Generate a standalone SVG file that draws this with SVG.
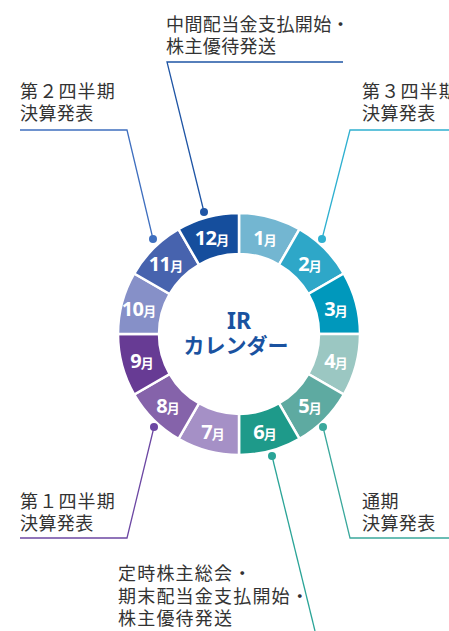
<svg xmlns="http://www.w3.org/2000/svg" width="449" height="631" viewBox="0 0 449 631">
<style>
.seg{stroke:#fff;stroke-width:2.5;stroke-linejoin:miter}
.lbl{font-family:"Noto Sans","Open Sans","Noto Sans CJK JP",sans-serif;font-weight:700;fill:#fff;text-anchor:middle}
.n{font-size:20px;letter-spacing:-0.8px}
.m{font-size:13px;font-family:"Noto Sans CJK JP",sans-serif}
.cap{font-family:"Noto Sans CJK JP","Noto Sans",sans-serif;font-size:18px;letter-spacing:0.4px;fill:#333}
.wide{letter-spacing:1.2px}
.ctr{font-family:"Noto Sans","Noto Sans CJK JP",sans-serif;font-weight:700;fill:#1a52a0;text-anchor:middle}
.ln{fill:none;stroke-width:1.3}
</style>
<rect width="449" height="631" fill="#fff"/>
<g id="ring">
<g id="m1"><path class="seg" fill="#73b6d1" d="M239,213 A121,121 0 0 1 299.5,229.21 L279,264.72 A80,80 0 0 0 239,254 Z"/><text class="lbl" x="265" y="244.5"><tspan class="n">1</tspan><tspan class="m">月</tspan></text></g>
<g id="m2"><path class="seg" fill="#2ea7c8" d="M299.5,229.21 A121,121 0 0 1 343.79,273.5 L308.28,294 A80,80 0 0 0 279,264.72 Z"/><text class="lbl" x="310" y="270.5"><tspan class="n">2</tspan><tspan class="m">月</tspan></text></g>
<g id="m3"><path class="seg" fill="#0098bc" d="M343.79,273.5 A121,121 0 0 1 360,334 L319,334 A80,80 0 0 0 308.28,294 Z"/><text class="lbl" x="336" y="315.5"><tspan class="n">3</tspan><tspan class="m">月</tspan></text></g>
<g id="m4"><path class="seg" fill="#9bc7c2" d="M360,334 A121,121 0 0 1 343.79,394.5 L308.28,374 A80,80 0 0 0 319,334 Z"/><text class="lbl" x="336" y="367.5"><tspan class="n">4</tspan><tspan class="m">月</tspan></text></g>
<g id="m5"><path class="seg" fill="#5eaaa1" d="M343.79,394.5 A121,121 0 0 1 299.5,438.79 L279,403.28 A80,80 0 0 0 308.28,374 Z"/><text class="lbl" x="310" y="412.5"><tspan class="n">5</tspan><tspan class="m">月</tspan></text></g>
<g id="m6"><path class="seg" fill="#1e9a8a" d="M299.5,438.79 A121,121 0 0 1 239,455 L239,414 A80,80 0 0 0 279,403.28 Z"/><text class="lbl" x="265" y="438.5"><tspan class="n">6</tspan><tspan class="m">月</tspan></text></g>
<g id="m7"><path class="seg" fill="#a590c6" d="M239,455 A121,121 0 0 1 178.5,438.79 L199,403.28 A80,80 0 0 0 239,414 Z"/><text class="lbl" x="213" y="438.5"><tspan class="n">7</tspan><tspan class="m">月</tspan></text></g>
<g id="m8"><path class="seg" fill="#8563aa" d="M178.5,438.79 A121,121 0 0 1 134.21,394.5 L169.72,374 A80,80 0 0 0 199,403.28 Z"/><text class="lbl" x="168" y="412.5"><tspan class="n">8</tspan><tspan class="m">月</tspan></text></g>
<g id="m9"><path class="seg" fill="#673b94" d="M134.21,394.5 A121,121 0 0 1 118,334 L159,334 A80,80 0 0 0 169.72,374 Z"/><text class="lbl" x="142" y="367.5"><tspan class="n">9</tspan><tspan class="m">月</tspan></text></g>
<g id="m10"><path class="seg" fill="#8690c8" d="M118,334 A121,121 0 0 1 134.21,273.5 L169.72,294 A80,80 0 0 0 159,334 Z"/><text class="lbl" x="139" y="315.5"><tspan class="n">10</tspan><tspan class="m">月</tspan></text></g>
<g id="m11"><path class="seg" fill="#4763ae" d="M134.21,273.5 A121,121 0 0 1 178.5,229.21 L199,264.72 A80,80 0 0 0 169.72,294 Z"/><text class="lbl" x="166" y="270.5"><tspan class="n">11</tspan><tspan class="m">月</tspan></text></g>
<g id="m12"><path class="seg" fill="#154e9d" d="M178.5,229.21 A121,121 0 0 1 239,213 L239,254 A80,80 0 0 0 199,264.72 Z"/><text class="lbl" x="212" y="244.5"><tspan class="n">12</tspan><tspan class="m">月</tspan></text></g>
</g>
<g id="center">
<text class="ctr" x="239" y="328.5" font-size="23">IR</text>
<text class="ctr" x="236" y="352.5" font-size="21">カレンダー</text>
</g>
<g id="connectors">
<polyline class="ln" stroke="#1f55a5" points="343,62 167,62 204,212"/>
<circle cx="204" cy="212" r="4" fill="#1f55a5"/>
<polyline class="ln" stroke="#3f6fbf" points="20,130 127,130 153,239"/>
<circle cx="153" cy="239" r="4" fill="#3f6fbf"/>
<polyline class="ln" stroke="#2fb0d0" points="449,130 350,130 322,239"/>
<circle cx="322" cy="239" r="4" fill="#2fb0d0"/>
<polyline class="ln" stroke="#6c47a3" points="20,538 127,538 154,427"/>
<circle cx="154" cy="427" r="4" fill="#6c47a3"/>
<polyline class="ln" stroke="#3aa89c" points="449,538 350,538 323,427"/>
<circle cx="323" cy="427" r="4" fill="#3aa89c"/>
<line class="ln" stroke="#2aa497" x1="272" y1="456" x2="315" y2="631"/>
<circle cx="272" cy="456" r="4" fill="#2aa497"/>
</g>
<g id="c12"><text class="cap" x="166" y="30.5">中間配当金支払開始・</text><text class="cap" x="166" y="53">株主優待発送</text></g>
<g id="c11"><text class="cap wide" x="20" y="97.5">第２四半期</text><text class="cap" x="20" y="120">決算発表</text></g>
<g id="c2"><text class="cap wide" x="362" y="97.5">第３四半期</text><text class="cap" x="362" y="120">決算発表</text></g>
<g id="c8"><text class="cap wide" x="20" y="507.5">第１四半期</text><text class="cap" x="20" y="530">決算発表</text></g>
<g id="c5"><text class="cap" x="362" y="507.5">通期</text><text class="cap" x="362" y="530">決算発表</text></g>
<g id="c6"><text class="cap wide" x="118" y="580">定時株主総会・</text><text class="cap wide" x="118" y="602.5">期末配当金支払開始・</text><text class="cap wide" x="118" y="625">株主優待発送</text></g>
</svg>
